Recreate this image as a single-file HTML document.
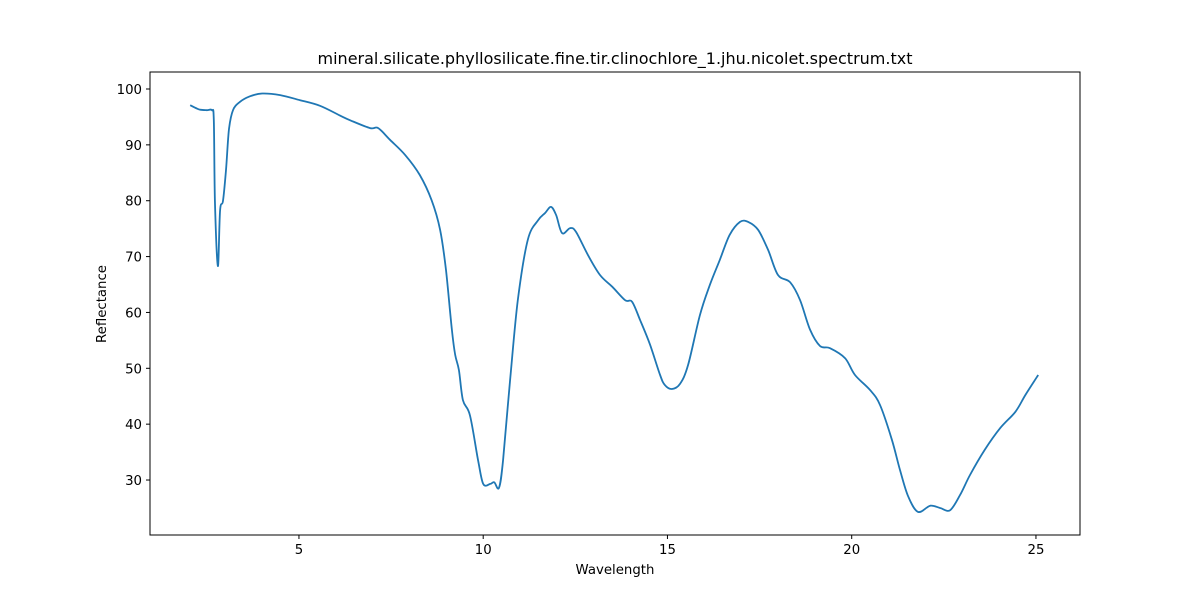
<!DOCTYPE html>
<html><head><meta charset="utf-8"><style>
body{margin:0;background:#fff}
text{font-family:"DejaVu Sans","Liberation Sans",sans-serif;fill:#000}
</style></head><body>
<svg id="chart" width="1200" height="600" xmlns="http://www.w3.org/2000/svg">
<rect width="1200" height="600" fill="#fff"/>
<text x="615" y="64" font-size="16" text-anchor="middle">mineral.silicate.phyllosilicate.fine.tir.clinochlore_1.jhu.nicolet.spectrum.txt</text>
<text x="615" y="574" font-size="13.3" text-anchor="middle">Wavelength</text>
<text x="106" y="304" font-size="13.3" text-anchor="middle" transform="rotate(-90 106 304)">Reflectance</text>
<g id="axes"></g>
</svg>
<script>
const wavelength=[2.05,2.2,2.32,2.5,2.64,2.69,2.72,2.8,2.86,2.94,3.02,3.1,3.21,3.4,3.67,4.0,4.49,5.03,5.57,6.1,6.39,6.93,7.15,7.47,7.88,8.28,8.6,8.83,8.99,9.15,9.24,9.34,9.45,9.64,9.86,10.0,10.19,10.3,10.43,10.54,10.73,10.94,11.21,11.49,11.68,11.84,11.98,12.14,12.36,12.52,12.84,13.17,13.5,13.85,14.04,14.26,14.53,14.8,14.93,15.12,15.34,15.56,15.88,16.15,16.42,16.69,16.97,17.19,17.46,17.73,18.0,18.33,18.6,18.87,19.14,19.41,19.82,20.09,20.5,20.77,21.09,21.31,21.53,21.8,22.13,22.4,22.67,22.94,23.21,23.61,24.03,24.44,24.71,25.06];
const reflectance=[97.1,96.6,96.3,96.2,96.2,94.5,80,68.3,78.3,80,85.5,92.7,96.2,97.7,98.7,99.2,98.9,98.0,97,95.3,94.4,93,93,90.9,88.2,84.6,80.1,74.8,67.6,56.9,52.4,49.7,44.3,41.6,33.6,29.3,29.3,29.6,28.6,33.6,47.9,62.2,73,76.5,77.8,78.9,77.4,74.2,75.1,74.4,70.3,66.7,64.6,62.2,61.9,58.6,54.2,48.8,47,46.3,47.2,50.6,59.5,64.9,69.4,73.9,76.2,76.2,74.8,71.2,66.7,65.4,62.2,56.9,54,53.6,51.8,48.8,46.1,43.4,37.2,31.8,27.1,24.3,25.4,25,24.6,27.3,30.9,35.4,39.3,42.2,45.2,48.8];
const xTicks=[5,10,15,20,25];
const yTicks=[30,40,50,60,70,80,90,100];
const L=150,R=1080,T=72,B=535;
const sx=v=>114.7+v*36.85;
const sy=v=>89+(100-v)*5.586;
const NS="http://www.w3.org/2000/svg";
const g=document.getElementById('axes');
function mk(t,a){const e=document.createElementNS(NS,t);for(const k in a)e.setAttribute(k,a[k]);g.appendChild(e);return e;}
const frame=mk('rect',{x:L,y:T,width:R-L,height:B-T,fill:'none',stroke:'#000','stroke-width':1});


xTicks.forEach(v=>{const x=sx(v);
const tk=mk('line',{x1:x,x2:x,y1:B,y2:B+4,stroke:'#000'});


const t=mk('text',{x:x,y:B+19,'font-size':13.3,'text-anchor':'middle'});t.textContent=v;

});
yTicks.forEach(v=>{const y=sy(v);
const tk=mk('line',{x1:L-4,x2:L,y1:y,y2:y,stroke:'#000'});


const t=mk('text',{x:L-8,y:y+5,'font-size':13.3,'text-anchor':'end'});t.textContent=v;

});
const P=wavelength.map((w,i)=>[sx(w),sy(reflectance[i])]);
let d='M'+P[0][0].toFixed(1)+','+P[0][1].toFixed(1);
for(let i=0;i<P.length-1;i++){
const p0=P[Math.max(0,i-1)],p1=P[i],p2=P[i+1],p3=P[Math.min(P.length-1,i+2)];
const c1=[p1[0]+(p2[0]-p0[0])/6,p1[1]+(p2[1]-p0[1])/6];
const c2=[p2[0]-(p3[0]-p1[0])/6,p2[1]-(p3[1]-p1[1])/6];
d+='C'+c1.map(v=>v.toFixed(1)).join(',')+' '+c2.map(v=>v.toFixed(1)).join(',')+' '+p2.map(v=>v.toFixed(1)).join(',');}
const p=mk('path',{d:d,fill:'none',stroke:'#1f77b4','stroke-width':1.8,'stroke-linejoin':'round'});


</script>
</body></html>
